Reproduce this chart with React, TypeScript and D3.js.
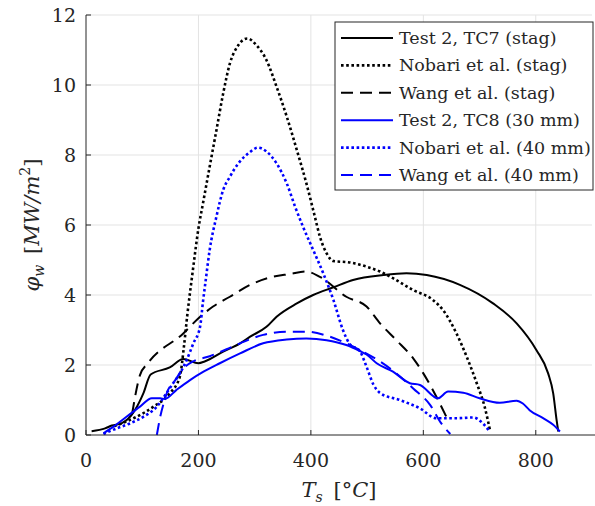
import React from "react";
import * as d3 from "d3";

const xTicks = [0, 200, 400, 600, 800];
const yTicks = [0, 2, 4, 6, 8, 10, 12];

const tc7X = [10, 34, 46, 63, 87, 102, 115, 149, 173, 200, 211, 244, 274, 292, 321, 339, 375, 404, 440, 475, 529, 570, 606, 665, 724, 766, 801, 822, 831, 837, 840];
const tc7Y = [0.11, 0.19, 0.27, 0.33, 0.71, 1.19, 1.73, 1.93, 2.17, 2.05, 2.1, 2.38, 2.62, 2.81, 3.09, 3.38, 3.76, 4.0, 4.22, 4.43, 4.57, 4.62, 4.57, 4.29, 3.76, 3.19, 2.43, 1.76, 1.19, 0.43, 0.1];

const nobStagX = [50, 90, 120, 149, 167, 174, 180, 190, 200, 209, 220, 232, 244, 256, 271, 287, 303, 321, 339, 357, 375, 392, 407, 416, 428, 440, 469, 499, 523, 546, 582, 617, 635, 659, 677, 695, 709, 719];
const nobStagY = [0.25, 0.52, 0.81, 1.19, 1.67, 2.5, 3.4, 4.7, 5.9, 6.7, 7.67, 8.71, 9.76, 10.62, 11.14, 11.33, 11.14, 10.71, 9.95, 9.1, 8.14, 7.19, 6.24, 5.67, 5.19, 4.97, 4.93, 4.81, 4.67, 4.48, 4.14, 3.86, 3.57, 2.9, 2.24, 1.48, 0.81, 0.1];

const wangStagX = [82, 96, 110, 173, 203, 226, 256, 292, 327, 363, 392, 416, 463, 499, 523, 552, 582, 600, 623, 643];
const wangStagY = [0.6, 1.71, 2.05, 2.9, 3.38, 3.67, 3.95, 4.29, 4.5, 4.6, 4.67, 4.52, 3.95, 3.67, 3.19, 2.71, 2.19, 1.76, 1.1, 0.45];

const tc8X = [31, 49, 72, 96, 117, 132, 140, 161, 185, 209, 238, 274, 315, 357, 392, 428, 463, 487, 499, 517, 546, 576, 594, 626, 644, 671, 700, 736, 766, 777, 789, 813, 831, 843];
const tc8Y = [0.05, 0.24, 0.52, 0.81, 1.05, 1.05, 1.03, 1.29, 1.57, 1.81, 2.05, 2.33, 2.62, 2.73, 2.76, 2.71, 2.57, 2.4, 2.3, 2.05, 1.81, 1.48, 1.43, 1.05, 1.24, 1.21, 1.05, 0.92, 0.98, 0.9, 0.71, 0.48, 0.29, 0.1];

const nob40X = [31, 55, 78, 102, 126, 143, 155, 167, 179, 191, 203, 208, 213, 220, 232, 244, 256, 271, 289, 306, 321, 339, 357, 372, 386, 404, 422, 440, 457, 469, 487, 499, 511, 523, 558, 594, 623, 659, 689, 706, 718];
const nob40Y = [0.03, 0.19, 0.33, 0.52, 0.81, 1.19, 1.48, 1.76, 2.14, 2.62, 3.1, 3.8, 4.43, 5.29, 6.24, 7.0, 7.38, 7.76, 8.05, 8.21, 8.1, 7.76, 7.19, 6.52, 5.95, 5.29, 4.62, 3.86, 3.0, 2.6, 2.4, 1.95, 1.45, 1.2, 1.0, 0.76, 0.48, 0.48, 0.5, 0.33, 0.1];

const wang40X = [126, 132, 138, 146, 155, 173, 190, 220, 250, 274, 315, 357, 392, 428, 463, 487, 523, 552, 582, 612, 632, 648];
const wang40Y = [0, 0.52, 0.9, 1.29, 1.48, 1.9, 2.1, 2.25, 2.45, 2.62, 2.86, 2.95, 2.95, 2.84, 2.62, 2.43, 2.1, 1.76, 1.33, 0.86, 0.33, 0.03];

const seriesNames = [
  "Test 2, TC7 (stag)",
  "Nobari et al. (stag)",
  "Wang et al. (stag)",
  "Test 2, TC8 (30 mm)",
  "Nobari et al. (40 mm)",
  "Wang et al. (40 mm)",
];
const seriesX = [tc7X, nobStagX, wangStagX, tc8X, nob40X, wang40X];
const seriesY = [tc7Y, nobStagY, wangStagY, tc8Y, nob40Y, wang40Y];
const seriesColor = ["#000000", "#000000", "#000000", "#0000ff", "#0000ff", "#0000ff"];
const seriesDash = [null, "2.6,2.6", "12,7", null, "2.6,2.6", "12,7"];
const seriesWidth = [2, 2.6, 2, 2, 2.6, 2];

const W = 595, H = 506;
const L = 86, R = 592, T = 15, B = 435;
const axisColor = "#262626";
const fs = { fontFamily: `"DejaVu Serif"` };

export default function App() {
  const x = d3.scaleLinear().domain([0, 900]).range([L, R]);
  const y = d3.scaleLinear().domain([0, 12]).range([B, T]);
  const line = d3
    .line<[number, number]>()
    .x((d) => x(d[0]))
    .y((d) => y(d[1]))
    .curve(d3.curveMonotoneX);

  const legX = 335, legY = 22, legW = 258, legH = 168;
  const rowH = 27.4;

  return (
    <svg width={W} height={H} style={{ position: "absolute", left: 0, top: 0 }}>
      <rect x={0} y={0} width={W} height={H} fill="#fff" />
      {xTicks.filter((t) => t > 0).map((t) => (
        <line key={"gx" + t} x1={x(t)} x2={x(t)} y1={T} y2={B} stroke="#e3e3e3" strokeWidth={1} />
      ))}
      {yTicks.filter((t) => t > 0).map((t) => (
        <line key={"gy" + t} x1={L} x2={R} y1={y(t)} y2={y(t)} stroke="#e3e3e3" strokeWidth={1} />
      ))}
      {seriesX.map((xs, i) => {
        const pts: [number, number][] = xs.map((v, j) => [v, seriesY[i][j]]);
        return (
          <path
            key={"s" + i}
            d={line(pts) || ""}
            fill="none"
            stroke={seriesColor[i]}
            strokeWidth={seriesWidth[i]}
            strokeDasharray={seriesDash[i] || undefined}
            strokeLinejoin="round"
          />
        );
      })}
      <line x1={L} x2={R + 3} y1={B} y2={B} stroke={axisColor} strokeWidth={1} />
      <line x1={L} x2={L} y1={T} y2={B} stroke={axisColor} strokeWidth={1} />
      {xTicks.map((t) => (
        <g key={"xt" + t}>
          <line x1={x(t)} x2={x(t)} y1={B} y2={B - 5} stroke={axisColor} />
          <text x={x(t)} y={467} textAnchor="middle" fontSize={19} fill={axisColor} style={fs}>
            {t}
          </text>
        </g>
      ))}
      {yTicks.map((t) => (
        <g key={"yt" + t}>
          <line x1={L} x2={L + 5} y1={y(t)} y2={y(t)} stroke={axisColor} />
          <text x={76} y={y(t) + 7} textAnchor="end" fontSize={19} fill={axisColor} style={fs}>
            {t}
          </text>
        </g>
      ))}
      <text x={(L + R) / 2} y={497} textAnchor="middle" fontSize={21} fill={axisColor} style={fs}>
        <tspan fontStyle="italic">T</tspan>
        <tspan fontStyle="italic" fontSize={14} dy={5}>s</tspan>
        <tspan dy={-5}>{"\u2009 [°"}</tspan>
        <tspan fontStyle="italic">C</tspan>
        <tspan>]</tspan>
      </text>
      <text
        transform={`translate(39, ${(T + B) / 2}) rotate(-90)`}
        textAnchor="middle"
        fontSize={21}
        fill={axisColor}
        style={fs}
      >
        <tspan fontStyle="italic">φ</tspan>
        <tspan fontStyle="italic" fontSize={14} dy={5}>w</tspan>
        <tspan dy={-5}>{"\u2009 ["}</tspan>
        <tspan fontStyle="italic">MW/m</tspan>
        <tspan fontSize={14} dy={-9}>2</tspan>
        <tspan dy={9}>]</tspan>
      </text>
      <rect x={legX} y={legY} width={legW} height={legH} fill="#fff" stroke={axisColor} strokeWidth={1} />
      {seriesNames.map((name, i) => {
        const cy = legY + 16 + i * rowH;
        return (
          <g key={"lg" + i}>
            <line
              x1={341}
              x2={393}
              y1={cy}
              y2={cy}
              stroke={seriesColor[i]}
              strokeWidth={seriesWidth[i]}
              strokeDasharray={seriesDash[i] || undefined}
            />
            <text x={399} y={cy + 6} fontSize={17.5} fill={axisColor} style={fs}>
              {name}
            </text>
          </g>
        );
      })}
    </svg>
  );
}
